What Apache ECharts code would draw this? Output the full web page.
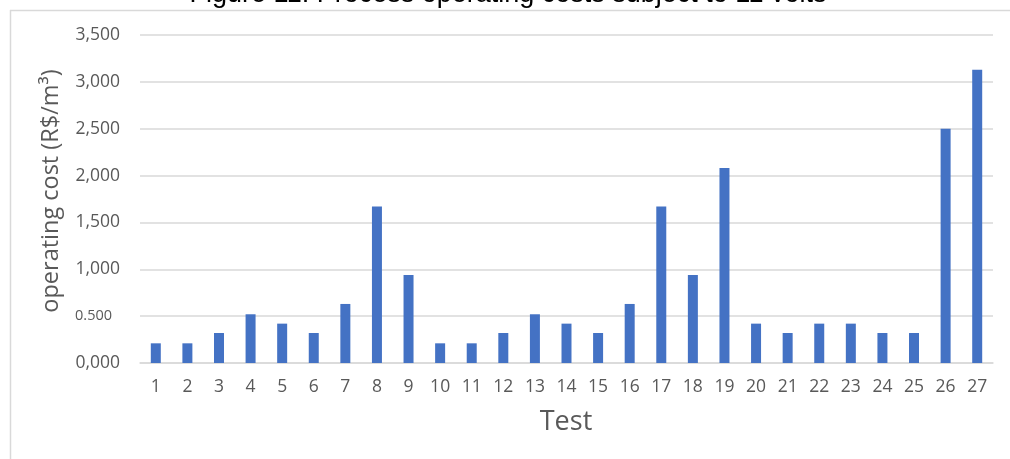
<!DOCTYPE html>
<html>
<head>
<meta charset="utf-8">
<script src="https://cdn.jsdelivr.net/npm/echarts@6/dist/echarts.min.js"></script>
<style>html,body{margin:0;padding:0;background:#fff}#c{width:1010px;height:459px}</style>
</head>
<body>
<div id="c"></div>
<script>
const categories = ['1','2','3','4','5','6','7','8','9','10','11','12','13','14','15','16','17','18','19','20','21','22','23','24','25','26','27'];
const costs = [0.21,0.21,0.32,0.52,0.42,0.32,0.63,1.67,0.94,0.21,0.21,0.32,0.52,0.42,0.32,0.63,1.67,0.94,2.08,0.42,0.32,0.42,0.42,0.32,0.32,2.50,3.13];
const titleText = 'Figure 11: Process operating costs subject to 11 volts';
const yTitle = 'operating cost (R$/m³)';
const xTitle = 'Test';

const chart = echarts.init(document.getElementById('c'), null, {renderer: 'canvas'});
const font = '"Open Sans", "Noto Sans", sans-serif';
chart.setOption({
  animation: false,
  grid: {left: 140, right: 17, top: 35, bottom: 96, containLabel: false},
  xAxis: {
    type: 'category',
    data: categories,
    axisLine: {lineStyle: {color: '#d9d9d9', width: 1.5}},
    axisTick: {show: false},
    axisLabel: {color: '#595959', fontSize: 17.5, fontFamily: font, margin: 15, interval: 0}
  },
  yAxis: {
    type: 'value',
    min: 0, max: 3.5, interval: 0.5,
    axisLine: {show: false},
    axisTick: {show: false},
    splitLine: {lineStyle: {color: '#d9d9d9', width: 1.5}},
    axisLabel: {
      color: '#595959', fontSize: 17.5, fontFamily: font, margin: 20,
      formatter: function (v) {
        if (Math.abs(v - 0.5) < 1e-9) return '{s|0.500}{g|}';
        return v.toFixed(3).replace('.', ',');
      },
      rich: {
        s: {fontSize: 14.5, color: '#595959', fontFamily: font},
        g: {width: 8, fontSize: 14.5}
      }
    }
  },
  series: [{
    type: 'bar',
    data: costs,
    barWidth: 10,
    itemStyle: {color: '#4472C4'}
  }],
  graphic: [
    {type: 'line', shape: {x1: 10, y1: 10.5, x2: 1010, y2: 10.5}, style: {stroke: '#d9d9d9', lineWidth: 1.5}},
    {type: 'line', shape: {x1: 10.5, y1: 10, x2: 10.5, y2: 459}, style: {stroke: '#d9d9d9', lineWidth: 1.5}},
    {type: 'text', x: 508, y: -5.5, style: {text: titleText, fill: '#000', font: '27px "Liberation Sans", Arial, sans-serif', textAlign: 'center', textVerticalAlign: 'middle'}},
    {type: 'text', x: 51, y: 191, rotation: Math.PI / 2, style: {text: yTitle, fill: '#595959', font: '23.5px ' + font, textAlign: 'center', textVerticalAlign: 'middle'}},
    {type: 'text', x: 566, y: 422, style: {text: xTitle, fill: '#595959', font: '27px ' + font, textAlign: 'center', textVerticalAlign: 'middle'}}
  ]
});
</script>
</body>
</html>
